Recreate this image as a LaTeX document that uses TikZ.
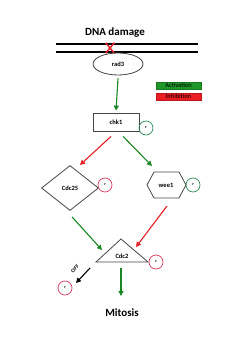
\documentclass[tikz,border=0pt]{standalone}
\usepackage{fontspec}
\setmainfont{Carlito}
\usetikzlibrary{shapes.geometric,shapes.misc,arrows.meta}
\definecolor{agreen}{RGB}{25,135,35}
\definecolor{ared}{RGB}{228,32,38}
\definecolor{lgreen}{RGB}{30,150,40}
\definecolor{lred}{RGB}{235,30,35}
\definecolor{pred}{RGB}{215,60,95}
\definecolor{pgreen}{RGB}{45,140,85}
\definecolor{edgec}{RGB}{70,70,70}
\begin{document}
\begin{tikzpicture}[x=1pt,y=-1pt,
  lbl/.style={font=\fontsize{6.5}{7}\selectfont\bfseries},
  big/.style={font=\fontsize{11}{13}\selectfont\bfseries},
  shp/.style={draw=edgec,line width=0.8pt},
  act/.style={draw=agreen,line width=1.1pt,-{Triangle[length=5pt,width=5pt]}},
  inh/.style={draw=ared,line width=1.1pt,-{Triangle[length=5pt,width=5pt]}},
  offarr/.style={draw=black,line width=1.1pt,-{Triangle[length=5pt,width=5pt]}},
  pcirc/.style={circle,draw=#1,line width=0.7pt,minimum size=14pt,inner sep=0pt,font=\fontsize{3}{3}\selectfont\bfseries},
  legbox/.style={fill=#1,draw=#1!80!black,line width=0.3pt,minimum width=45pt,minimum height=7pt,inner sep=0pt,font=\fontsize{6.5}{6.5}\selectfont,text=black}
]
\useasboundingbox (0,0) rectangle (250,337);
\fill[white] (0,0) rectangle (250,337);

% DNA
\node[big] (dna) at (115,33) {DNA damage};
\coordinate (l1a) at (56,44); \coordinate (l1b) at (198,44);
\coordinate (l2a) at (56,52); \coordinate (l2b) at (198,52);
\draw[line width=1.3pt] (l1a) -- (l1b);
\draw[line width=1.3pt] (l2a) -- (l2b);
\node[cross out,draw=ared,line width=1.5pt,minimum width=7pt,minimum height=9pt,inner sep=0pt] (xmark) at (110,48) {};

% rad3
\node[ellipse,shp,minimum width=50pt,minimum height=22pt,inner sep=0pt,lbl] (rad3) at (118,64) {rad3};

% legend
\node[legbox=lgreen] (lact) at (178.5,85.5) {Activation};
\node[legbox=lred] (linh) at (178.5,96.5) {Inhibition};

% chk1
\node[rectangle,shp,minimum width=46pt,minimum height=18pt,inner sep=0pt,lbl] (chk1) at (116,122) {chk1};
\node[pcirc=pgreen] (p1) at (146,128) {P};

% Cdc25
\node[diamond,shp,minimum width=57pt,minimum height=45pt,aspect=1.27,inner sep=0pt,lbl] (cdc25) at (70,188) {Cdc25};
\node[pcirc=pred] (p2) at (105,185) {P};

% wee1
\node[lbl] (wee1) at (166,185) {wee1};
\coordinate (h1) at (147,185); \coordinate (h2) at (154,172); \coordinate (h3) at (179,172);
\coordinate (h4) at (186,185); \coordinate (h5) at (179,198); \coordinate (h6) at (154,198);
\draw[shp,line join=miter] (h1) -- (h2) -- (h3) -- (h4) -- (h5) -- (h6) -- cycle;
\node[pcirc=pgreen] (p3) at (193,185) {P};

% Cdc2
\coordinate (t1) at (121,239); \coordinate (t2) at (148,262); \coordinate (t3) at (96,262);
\draw[shp,line join=miter] (t1) -- (t2) -- (t3) -- cycle;
\node[lbl] (cdc2) at (122,256) {Cdc2};
\node[pcirc=pred] (p4) at (156,262) {P};

% OFF
\node[font=\fontsize{5.5}{6}\selectfont\bfseries,rotate=45] (off) at (75,269) {OFF};
\node[pcirc=pred] (p5) at (65,288) {P};

% Mitosis
\node[big] (mit) at (122,313) {Mitosis};

% arrow ends
\coordinate (s5) at (167,206);
\coordinate (s6) at (90,268);
\coordinate (s7) at (121,268);
\coordinate (e2) at (80,165);
\coordinate (e3) at (152,166);
\coordinate (e4) at (102,250);
\coordinate (e5) at (136,247);
\coordinate (e6) at (76,283);
\coordinate (e7) at (121,296);

\draw[act] ([yshift=-3pt]rad3.south) -- ([yshift=2pt]chk1.north);
\draw[inh] ([shift={(-5,5)}]chk1.south) -- (e2);
\draw[act] ([shift={(7,5)}]chk1.south) -- (e3);
\draw[act] ([shift={(2,6)}]cdc25.south) -- (e4);
\draw[inh] (s5) -- (e5);
\draw[offarr] (s6) -- (e6);
\draw[act] (s7) -- (e7);
\end{tikzpicture}
\end{document}
